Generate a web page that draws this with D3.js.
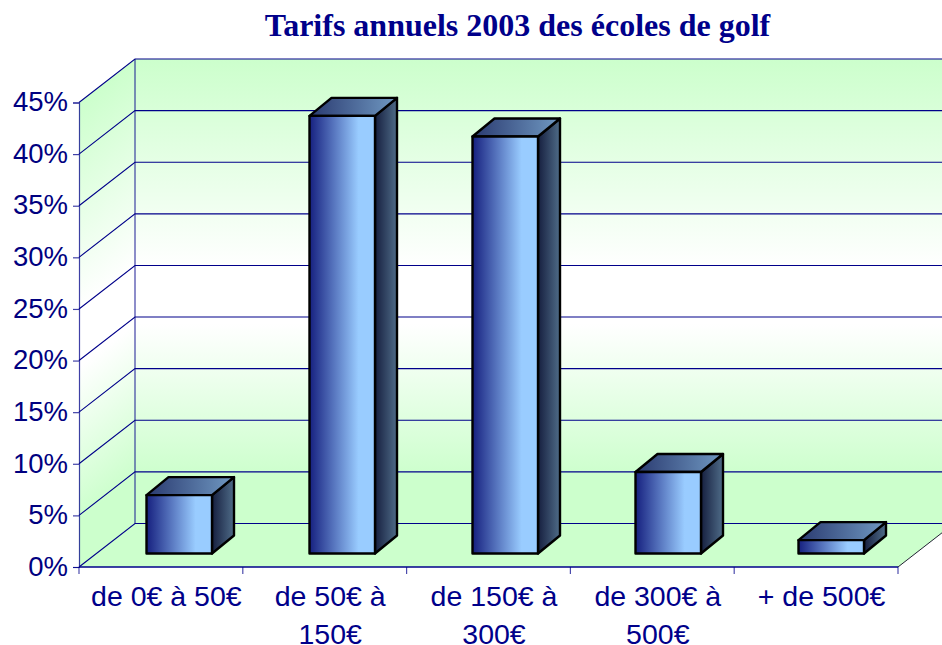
<!DOCTYPE html>
<html><head><meta charset="utf-8">
<script src="https://cdn.jsdelivr.net/npm/d3@7"></script>
<style>html,body{margin:0;padding:0;background:#fff;overflow:hidden}svg{display:block}text{fill:#000080}</style>
</head><body><svg id="c" width="942" height="645"></svg>
<script>
const titleText = "Tarifs annuels 2003 des écoles de golf";
const categories = ["de 0€ à 50€","de 50€ à|150€","de 150€ à|300€","de 300€ à|500€","+ de 500€"];
const values = [0.0566,0.424,0.404,0.079,0.013];
const yTicks = [0,0.05,0.10,0.15,0.20,0.25,0.30,0.35,0.40,0.45];

const svg = d3.select("#c");
const navy="#00008a";
const x = d3.scaleBand().domain(categories).range([79,898]).padding(0);
const xBars = d3.scaleBand().domain(categories).range([146.5,961.5]).padding(0);
const y = d3.scaleLinear().domain([0,0.45]).range([567,102.5]);
const depthX=56, depthY=-43.5;
const barW=65.5, zY=-13.5, dX=22, dY=-18;

const defs=svg.append("defs");
function grad(id,stops,attrs){
  const g=defs.append("linearGradient").attr("id",id);
  Object.entries(attrs).forEach(([k,v])=>g.attr(k,v));
  stops.forEach(s=>g.append("stop").attr("offset",s[0]).attr("stop-color",s[1]));
}
const wallStops=[[0,"#ccffcc"],[0.45,"#ffffff"],[0.57,"#ffffff"],[0.9,"#ccffcc"],[1,"#ccffcc"]];
const backTop=y(0.45)+depthY, backBot=y(0)+depthY;
grad("wall",wallStops,{gradientUnits:"userSpaceOnUse",x1:0,x2:0,y1:backTop,y2:backBot});
const L=Math.hypot(depthX,depthY), nx=-depthY/L, ny=depthX/L, proj=(backBot-backTop)*ny;
const sx=x.range()[0]+depthX;
grad("side",wallStops,{gradientUnits:"userSpaceOnUse",x1:sx,y1:backTop,x2:sx+nx*proj,y2:backTop+ny*proj});
grad("front",[[0,"#16207f"],[0.75,"#99ccff"],[1,"#99ccff"]],{x1:0,x2:1,y1:0,y2:0});
grad("top",[[0,"#2a3a70"],[1,"#7099c2"]],{x1:0,x2:1,y1:0,y2:0});
grad("right",[[0,"#161f3f"],[1,"#4f6c88"]],{x1:0,x2:1,y1:0,y2:0});

const line=d3.line();
const x0=x.range()[0], x1=x.range()[1], y0=y(0), yT=y(0.45);
svg.append("path").attr("d",line([[x0,yT],[x0+depthX,yT+depthY],[x0+depthX,y0+depthY],[x0,y0]])+"Z").attr("fill","url(#side)");
svg.append("rect").attr("x",x0+depthX).attr("y",backTop).attr("width",x1-x0).attr("height",backBot-backTop).attr("fill","url(#wall)");
svg.append("path").attr("d",line([[x0,y0],[x0+depthX,y0+depthY],[x1+depthX,y0+depthY],[x1,y0]])+"Z").attr("fill","#ccffcc");

yTicks.forEach(t=>{
  svg.append("path").attr("fill","none").attr("stroke",navy).attr("stroke-width",1.1)
    .attr("d",line([[x0,y(t)],[x0+depthX,y(t)+depthY],[x1+depthX,y(t)+depthY]]));
});
svg.append("line").attr("x1",x0+depthX).attr("x2",x0+depthX).attr("y1",backTop).attr("y2",backBot).attr("stroke",navy).attr("stroke-opacity",.75).attr("stroke-width",1.2);
svg.append("line").attr("x1",x1).attr("y1",y0).attr("x2",x1+depthX).attr("y2",y0+depthY).attr("stroke","#223").attr("stroke-width",1);

const bars=svg.selectAll("g.bar").data(categories.map((c,i)=>({c,v:values[i]}))).join("g").attr("class","bar");
const bx=d=>xBars(d.c), by=d=>y(d.v)+zY, bb=()=>y(0)+zY;
const st=s=>s.attr("stroke","#000").attr("stroke-width",2.4).attr("stroke-linejoin","round");
bars.append("path").attr("d",d=>line([[bx(d)+barW,by(d)],[bx(d)+barW+dX,by(d)+dY],[bx(d)+barW+dX,bb()+dY],[bx(d)+barW,bb()]])+"Z").attr("fill","url(#right)").call(st);
bars.append("path").attr("d",d=>line([[bx(d),by(d)],[bx(d)+dX,by(d)+dY],[bx(d)+barW+dX,by(d)+dY],[bx(d)+barW,by(d)]])+"Z").attr("fill","url(#top)").call(st);
bars.append("rect").attr("x",bx).attr("y",by).attr("width",barW).attr("height",d=>bb()-by(d)).attr("fill","url(#front)").call(st);

const yAxis=d3.axisLeft(y).tickValues(yTicks).tickFormat(d3.format(".0%")).tickSize(6).tickPadding(5);
const gy=svg.append("g").attr("transform",`translate(${x0},0)`).call(yAxis);
gy.selectAll("path,line").attr("stroke",navy).attr("stroke-opacity",.75).attr("stroke-width",1.2);
gy.selectAll("text").attr("font-family","Liberation Sans").attr("font-size",27.5).attr("fill",navy).attr("stroke","none").attr("dy","0.30em");

svg.append("line").attr("x1",x0).attr("x2",x1).attr("y1",y0).attr("y2",y0).attr("stroke",navy).attr("stroke-width",1.4);
[...categories.map(c=>x(c)),x1].forEach(p=>svg.append("line").attr("x1",p).attr("x2",p).attr("y1",y0).attr("y2",y0+7).attr("stroke",navy).attr("stroke-opacity",.7).attr("stroke-width",1.2));
const lab=svg.selectAll("text.cat").data(categories).join("text").attr("class","cat")
  .attr("font-family","Liberation Sans").attr("font-size",28.5).attr("text-anchor","middle").style("fill",navy);
lab.each(function(c){
  c.split("|").forEach((t,i)=>d3.select(this).append("tspan").attr("x",x(c)+x.bandwidth()/2+5.5).attr("y",606+i*38).text(t));
});

svg.append("text").attr("x",517.5).attr("y",36).attr("text-anchor","middle").style("fill",navy)
  .attr("font-family","Liberation Serif").attr("font-weight","bold").attr("font-size",32).text(titleText);
</script></body></html>
